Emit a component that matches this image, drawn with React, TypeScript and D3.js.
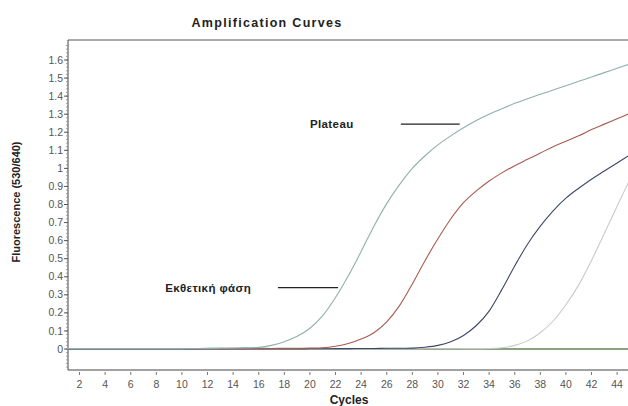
import React from "react";
import * as d3 from "d3";

const cycles: number[] = Array.from({ length: 45 }, (_, i) => i + 1);

const curveA: number[] = [
  0.002, 0.002, 0.002, 0.002, 0.002, 0.002, 0.002, 0.002, 0.002, 0.002,
  0.003, 0.003, 0.004, 0.005, 0.006, 0.009, 0.02, 0.04, 0.07, 0.115,
  0.185, 0.285, 0.405, 0.54, 0.68, 0.805, 0.91, 1.0, 1.07, 1.13,
  1.18, 1.225, 1.265, 1.3, 1.33, 1.36, 1.386, 1.41, 1.434, 1.458,
  1.482, 1.506, 1.53, 1.554, 1.578,
];
const curveB: number[] = [
  0.002, 0.002, 0.002, 0.002, 0.002, 0.002, 0.002, 0.002, 0.002, 0.002,
  0.002, 0.002, 0.002, 0.002, 0.002, 0.003, 0.003, 0.004, 0.004, 0.005,
  0.007, 0.015, 0.03, 0.055, 0.09, 0.15, 0.24, 0.36, 0.49, 0.61,
  0.72, 0.81, 0.875, 0.93, 0.975, 1.015, 1.05, 1.085, 1.12, 1.15,
  1.18, 1.215, 1.245, 1.275, 1.305,
];
const curveC: number[] = [
  0.0, 0.0, 0.0, 0.0, 0.0, 0.0, 0.0, 0.0, 0.0, 0.0,
  0.0, 0.0, 0.0, 0.0, 0.0, 0.0, 0.0, 0.0, 0.0, 0.001,
  0.001, 0.002, 0.002, 0.003, 0.003, 0.004, 0.004, 0.005, 0.01, 0.02,
  0.04, 0.075, 0.13, 0.21, 0.33, 0.46, 0.58, 0.68, 0.765, 0.835,
  0.89, 0.94, 0.985, 1.03, 1.075,
];
const curveD: number[] = [
  0.0, 0.0, 0.0, 0.0, 0.0, 0.0, 0.0, 0.0, 0.0, 0.0,
  0.0, 0.0, 0.0, 0.0, 0.0, 0.0, 0.0, 0.0, 0.0, 0.0,
  0.0, 0.0, 0.0, 0.0, 0.0, 0.0, 0.0, 0.0, 0.001, 0.001,
  0.001, 0.002, 0.002, 0.003, 0.007, 0.02, 0.045, 0.09, 0.155, 0.245,
  0.355, 0.49, 0.64, 0.79, 0.94,
];
const curveNeg1: number[] = cycles.map(() => 0.0);
const curveNeg2: number[] = [
  0.0, 0.0, 0.0, 0.0, 0.0, 0.0, 0.0, 0.0, 0.0, 0.0,
  0.002, 0.004, 0.004, 0.004, 0.005, 0.004, 0.003, 0.002, 0.001, 0.0,
  0.0, 0.0, 0.0, 0.0, 0.0, 0.0, 0.0, 0.0, 0.0, 0.0,
  0.0, 0.0, 0.0, 0.0, 0.0, 0.0, 0.0, 0.0, 0.0, 0.0,
  0.0, 0.0, 0.0, 0.0, 0.0,
];

const seriesNames = ["Neg1", "Neg2", "A", "B", "C", "D"];
const seriesValues = [curveNeg1, curveNeg2, curveD, curveC, curveB, curveA];
const seriesColors = ["#6b5a50", "#5f9a5a", "#cacaca", "#3d4869", "#a85a50", "#8fb0ac"];

const yTicks: number[] = d3.range(0, 17).map((i) => i / 10);
const yMinorTicks: number[] = d3.range(-5, 85).map((i) => i / 50);
const xTicks: number[] = d3.range(2, 45, 2);

const title = "Amplification Curves";
const yLabel = "Fluorescence (530/640)";
const xLabel = "Cycles";
const annotations = [
  { text: "Plateau", cycle: 20.0, value: 1.245, lineFrom: 27.1, lineTo: 31.7 },
  { text: "Εκθετική φάση", cycle: 8.7, value: 0.34, lineFrom: 17.5, lineTo: 22.2 },
];

export default function App() {
  const W = 628;
  const H = 406;
  const left = 68;
  const top = 40;
  const bottom = 370;
  const x = d3.scaleLinear().domain([1.1, 46]).range([left, left + 44.9 * 12.8]);
  const y = d3.scaleLinear().domain([0, 1.6]).range([349, 60]);
  const line = d3
    .line<number>()
    .x((_, i) => x(cycles[i]))
    .y((d) => y(d))
    .curve(d3.curveMonotoneX);
  const tickFont = "Liberation Sans, Arial, sans-serif";

  return (
    <svg
      width={W}
      height={H}
      style={{ position: "absolute", left: 0, top: 0, background: "#fff" }}
      fontFamily={tickFont}
    >
      <rect x={0} y={0} width={W} height={H} fill="#fff" />
      <text
        x={267}
        y={27}
        textAnchor="middle"
        fontSize={12.5}
        fontWeight="bold"
        letterSpacing={1.3}
        fill="#222"
      >
        {title}
      </text>

      {/* frame */}
      <line x1={left} x2={W} y1={top} y2={top} stroke="#555" strokeWidth={1} />
      <line x1={left} x2={left} y1={top} y2={bottom} stroke="#444" strokeWidth={1} />
      <line x1={left} x2={W} y1={bottom} y2={bottom} stroke="#444" strokeWidth={1} />

      {/* y ticks */}
      {yMinorTicks.map((t) =>
        y(t) > top && y(t) < bottom ? (
          <line key={"m" + t} x1={left - 2} x2={left} y1={y(t)} y2={y(t)} stroke="#888" strokeWidth={0.8} />
        ) : null
      )}
      {yTicks.map((t) => (
        <g key={"y" + t}>
          <line x1={left - 4} x2={left} y1={y(t)} y2={y(t)} stroke="#555" />
          <text x={63} y={y(t) + 3.6} textAnchor="end" fontSize={10.5} fill="#555">
            {String(t)}
          </text>
        </g>
      ))}

      {/* x ticks */}
      {xTicks.map((t) => (
        <g key={"x" + t}>
          <line x1={x(t)} x2={x(t)} y1={bottom + 2} y2={bottom + 5} stroke="#777" />
          <text x={x(t)} y={387.5} textAnchor="middle" fontSize={10.5} fill="#555">
            {String(t)}
          </text>
        </g>
      ))}

      {/* curves */}
      <g>
        {seriesValues.map((vals, i) => (
          <path
            key={seriesNames[i]}
            d={line(vals) || ""}
            fill="none"
            stroke={seriesColors[i]}
            strokeWidth={1.1}
          />
        ))}
      </g>

      {/* annotations */}
      {annotations.map((a) => (
        <g key={a.text}>
          <text x={x(a.cycle)} y={y(a.value) + 4} fontSize={11.5} fontWeight="bold" fill="#222" letterSpacing={0.4}>
            {a.text}
          </text>
          <line
            x1={x(a.lineFrom)}
            x2={x(a.lineTo)}
            y1={y(a.value)}
            y2={y(a.value)}
            stroke="#222"
            strokeWidth={1.4}
          />
        </g>
      ))}

      <text
        transform={`translate(20,202) rotate(-90)`}
        textAnchor="middle"
        fontSize={11}
        fontWeight="bold"
        fill="#222"
      >
        {yLabel}
      </text>
      <text x={349} y={404} textAnchor="middle" fontSize={12} fontWeight="bold" fill="#222">
        {xLabel}
      </text>
    </svg>
  );
}
